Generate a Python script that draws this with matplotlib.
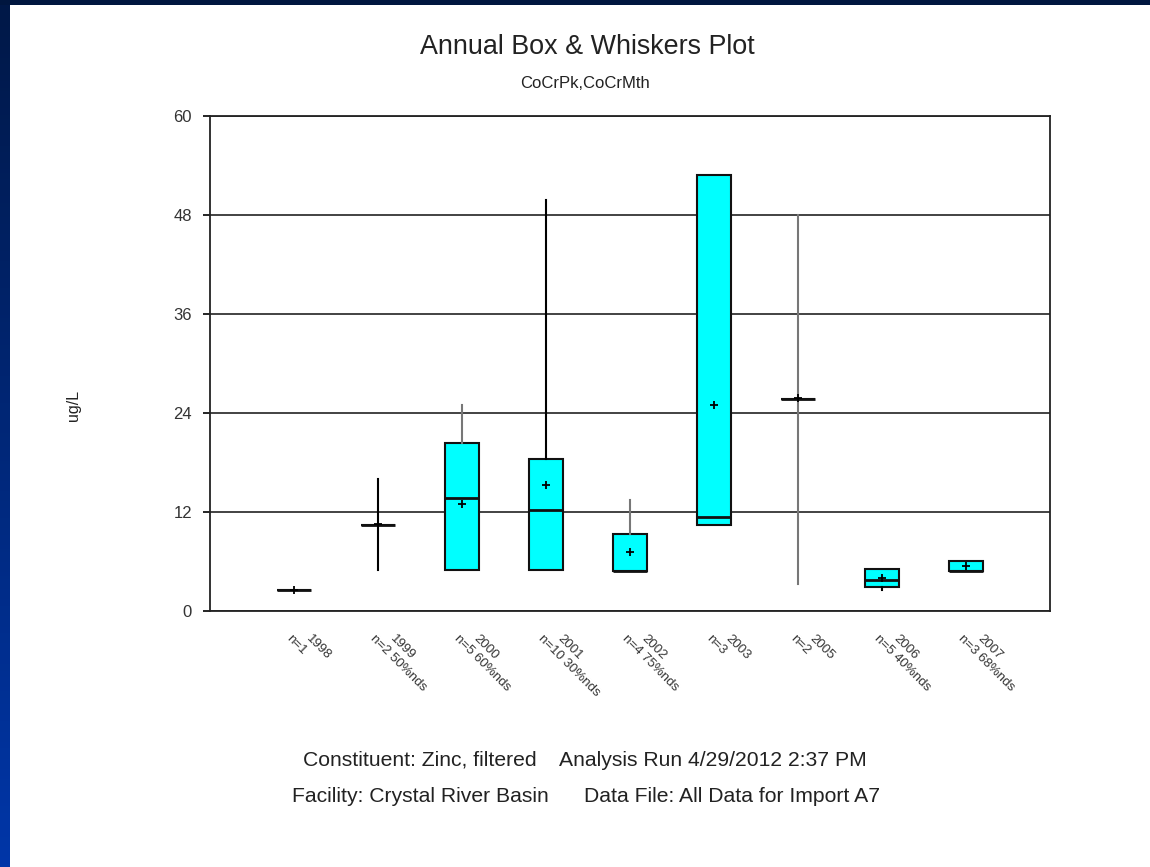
import numpy as np
import matplotlib.pyplot as plt
from matplotlib.patches import Rectangle
from matplotlib.colors import LinearSegmentedColormap

plt.rcParams['font.family'] = ['Liberation Sans', 'DejaVu Sans']

# data (ug/L)
years = ['1998', '1999', '2000', '2001', '2002', '2003', '2005', '2006', '2007']
n_labels = ['n=1', 'n=2 50%nds', 'n=5 60%nds', 'n=10 30%nds', 'n=4 75%nds',
            'n=3', 'n=2', 'n=5 40%nds', 'n=3 68%nds']
low = [2.5, 5.0, 5.0, 5.0, 4.8, 10.4, 3.3, 2.6, 4.8]
q1 = [2.5, 10.4, 5.0, 5.0, 4.8, 10.4, 25.7, 2.9, 4.8]
med = [2.5, 10.4, 13.7, 12.2, 4.8, 11.4, 25.7, 3.7, 4.8]
q3 = [2.5, 10.4, 20.4, 18.4, 9.3, 52.9, 25.7, 5.05, 6.1]
high = [2.5, 16.0, 25.0, 49.8, 13.5, 52.9, 48.0, 5.05, 6.1]
mean = [2.5, 10.5, 13.0, 15.3, 7.2, 25.0, 25.8, 4.0, 5.4]
whisker_colors = ['k', 'k', '#777777', 'k', '#777777', 'k', '#777777', 'k', 'k']

fig = plt.figure(figsize=(11.5, 8.67), dpi=100)
fig.patch.set_facecolor('white')

# slide background: dark band on top, blue gradient on the left
bg = fig.add_axes([0, 0, 1, 1], zorder=-10)
bg.set_xlim(0, 1150)
bg.set_ylim(0, 867)
bg.axis('off')
grad = np.linspace(0, 1, 256).reshape(-1, 1)
cm = LinearSegmentedColormap.from_list('slide', ['#001847', '#0036a8'])
bg.imshow(grad, extent=[0, 10, 0, 867], aspect='auto', cmap=cm, origin='upper')
bg.add_patch(Rectangle((0, 862), 1150, 5, color='#00163f', lw=0))

ax = fig.add_axes([210 / 1150, 256 / 867, 840 / 1150, 495 / 867])

stats = []
for i in range(len(years)):
    stats.append(dict(med=med[i], q1=q1[i], q3=q3[i], whislo=low[i],
                      whishi=high[i], mean=mean[i], fliers=[]))
positions = list(range(1, len(years) + 1))

res = ax.bxp(stats, positions=positions, widths=0.4, patch_artist=True,
             showmeans=True, showcaps=False, showfliers=False,
             boxprops=dict(facecolor='#00ffff', edgecolor='#111111', linewidth=1.5),
             medianprops=dict(color='#111111', linewidth=2),
             meanprops=dict(marker='+', markeredgecolor='k', markersize=6, markeredgewidth=1.3),
             whiskerprops=dict(color='k', linewidth=1.5))
for i, c in enumerate(whisker_colors):
    res['whiskers'][2 * i].set_color(c)
    res['whiskers'][2 * i + 1].set_color(c)

ax.set_xlim(0, 10)
ax.set_ylim(0, 60)
ax.set_yticks([0, 12, 24, 36, 48, 60])
ax.yaxis.grid(True, color='#222222', linewidth=1.2)
ax.set_axisbelow(True)
for s in ax.spines.values():
    s.set_linewidth(1.3)
    s.set_color('#222222')
ax.tick_params(axis='y', length=5, width=1.2, pad=8, labelsize=12, labelcolor='#333333')
ax.set_xticks(positions)
ax.tick_params(axis='x', length=0, labelbottom=False)

# two-line rotated category labels
for i, (yr, nl) in enumerate(zip(years, n_labels)):
    ax.annotate(yr, xy=(positions[i], 0), xycoords=('data', 'axes fraction'),
                xytext=(13, -15.5), textcoords='offset points', rotation=-45,
                rotation_mode='anchor', ha='left', va='top', fontsize=9.5, color='#333333')
    ax.annotate(nl, xy=(positions[i], 0), xycoords=('data', 'axes fraction'),
                xytext=(-1, -15.5), textcoords='offset points', rotation=-45,
                rotation_mode='anchor', ha='left', va='top', fontsize=9.5, color='#333333')

fig.text(587 / 1150, 1 - 47 / 867, 'Annual Box & Whiskers Plot', ha='center', va='center',
         fontsize=19.4, color='#222222')
fig.text(585 / 1150, 1 - 83 / 867, 'CoCrPk,CoCrMth', ha='center', va='center',
         fontsize=12, color='#222222')
fig.text(73 / 1150, 1 - 405 / 867, 'ug/L', rotation=90, ha='center', va='center',
         fontsize=11.5, color='#222222')
fig.text(585 / 1150, 1 - 761 / 867, 'Constituent: Zinc, filtered    Analysis Run 4/29/2012 2:37 PM',
         ha='center', va='center', fontsize=15.2, color='#222222')
fig.text(586 / 1150, 1 - 797 / 867, 'Facility: Crystal River Basin      Data File: All Data for Import A7',
         ha='center', va='center', fontsize=15.2, color='#222222')

fig.savefig('out.png', dpi=100)
